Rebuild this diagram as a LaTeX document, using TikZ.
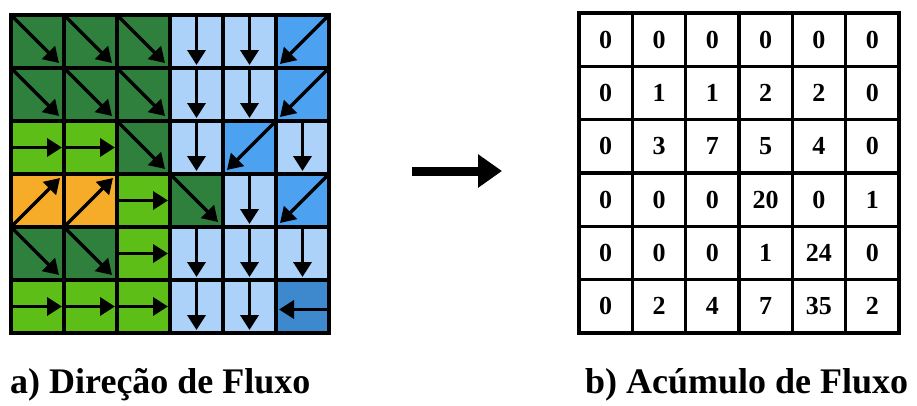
\documentclass[tikz,border=0pt]{standalone}
\usepackage{fontspec}
\setmainfont{Liberation Serif}[BoldFont={Liberation Serif Bold},ItalicFont={Liberation Serif Italic}]
\newfontfamily\capfont{Liberation Serif Bold}
\usetikzlibrary{arrows.meta}
\definecolor{dg}{RGB}{46,128,60}
\definecolor{lg}{RGB}{92,190,22}
\definecolor{og}{RGB}{246,172,40}
\definecolor{lb}{RGB}{172,210,250}
\definecolor{mb}{RGB}{76,162,240}
\definecolor{db}{RGB}{62,136,206}
\begin{document}
\begin{tikzpicture}[x=1pt,y=-1pt,
  cell/.style={minimum width=53pt,minimum height=53pt,inner sep=0pt,outer sep=0pt,
               anchor=north west,draw=black,line width=3.5pt},
  ncell/.style={minimum width=53.33pt,minimum height=53.33pt,inner sep=0pt,outer sep=0pt,
               anchor=north west,draw=black,line width=3.5pt,fill=white,
               font=\capfont\fontsize{26}{26}\selectfont},
  flow/.style={line width=3.5pt,-{Triangle[length=15pt,width=18pt]}},
  bigarrow/.style={line width=9pt,-{Triangle[length=24pt,width=32pt]}},
  caption/.style={anchor=base west,inner sep=0pt,font=\capfont\fontsize{36}{40}\selectfont}]
\useasboundingbox (0,0) rectangle (917,405);

% ---- left grid: flow direction ----
\foreach \row [count=\i] in {
  {dg/se,dg/se,dg/se,lb/s,lb/s,mb/sw},
  {dg/se,dg/se,dg/se,lb/s,lb/s,mb/sw},
  {lg/e,lg/e,dg/se,lb/s,mb/sw,lb/s},
  {og/ne,og/ne,lg/e,dg/se,lb/s,mb/sw},
  {dg/se,dg/se,lg/e,lb/s,lb/s,lb/s},
  {lg/e,lg/e,lg/e,lb/s,lb/s,db/w}}{
  \foreach \colr/\dir [count=\j] in \row {
    \node[cell,fill=\colr] (L-\i-\j) at ({11+53*(\j-1)},{15+53*(\i-1)}) {};
  }
}
% arrows by direction
\foreach \c in {1-1,1-2,1-3,2-1,2-2,2-3,3-3,4-4,5-1,5-2}
  \draw[flow] (L-\c.north west) -- ([shift={(-5,-5)}]L-\c.south east);
\foreach \c in {1-4,1-5,2-4,2-5,3-4,3-6,4-5,5-4,5-5,5-6,6-4,6-5}
  \draw[flow] (L-\c.north) -- ([shift={(0,-3)}]L-\c.south);
\foreach \c in {3-1,3-2,4-3,5-3,6-1,6-2,6-3}
  \draw[flow] (L-\c.west) -- ([shift={(-2,0)}]L-\c.east);
\foreach \c in {4-1,4-2}
  \draw[flow] (L-\c.south west) -- ([shift={(-4,4)}]L-\c.north east);
\foreach \c in {1-6,2-6,3-5,4-6}
  \draw[flow] (L-\c.north east) -- ([shift={(4,-4)}]L-\c.south west);
\foreach \c in {6-6}
  \draw[flow] ([shift={(0,3)}]L-\c.east) -- ([shift={(3,3)}]L-\c.west);

% ---- right grid: flow accumulation ----
\foreach \row [count=\i] in {
  {0,0,0,0,0,0},
  {0,1,1,2,2,0},
  {0,3,7,5,4,0},
  {0,0,0,20,0,1},
  {0,0,0,1,24,0},
  {0,2,4,7,35,2}}{
  \foreach \v [count=\j] in \row {
    \node[ncell] (R-\i-\j) at ({579+53.33*(\j-1)},{13+53.33*(\i-1)}) {\v};
  }
}

% ---- big arrow ----
\coordinate (arrS) at (412,171);
\coordinate (arrE) at (502,171);
\draw[bigarrow] (arrS) -- (arrE);

% ---- captions ----
\node[caption] (capA) at (10,393) {a) Direção de Fluxo};
\node[caption] (capB) at (585,393) {b) Acúmulo de Fluxo};
\end{tikzpicture}
\end{document}
